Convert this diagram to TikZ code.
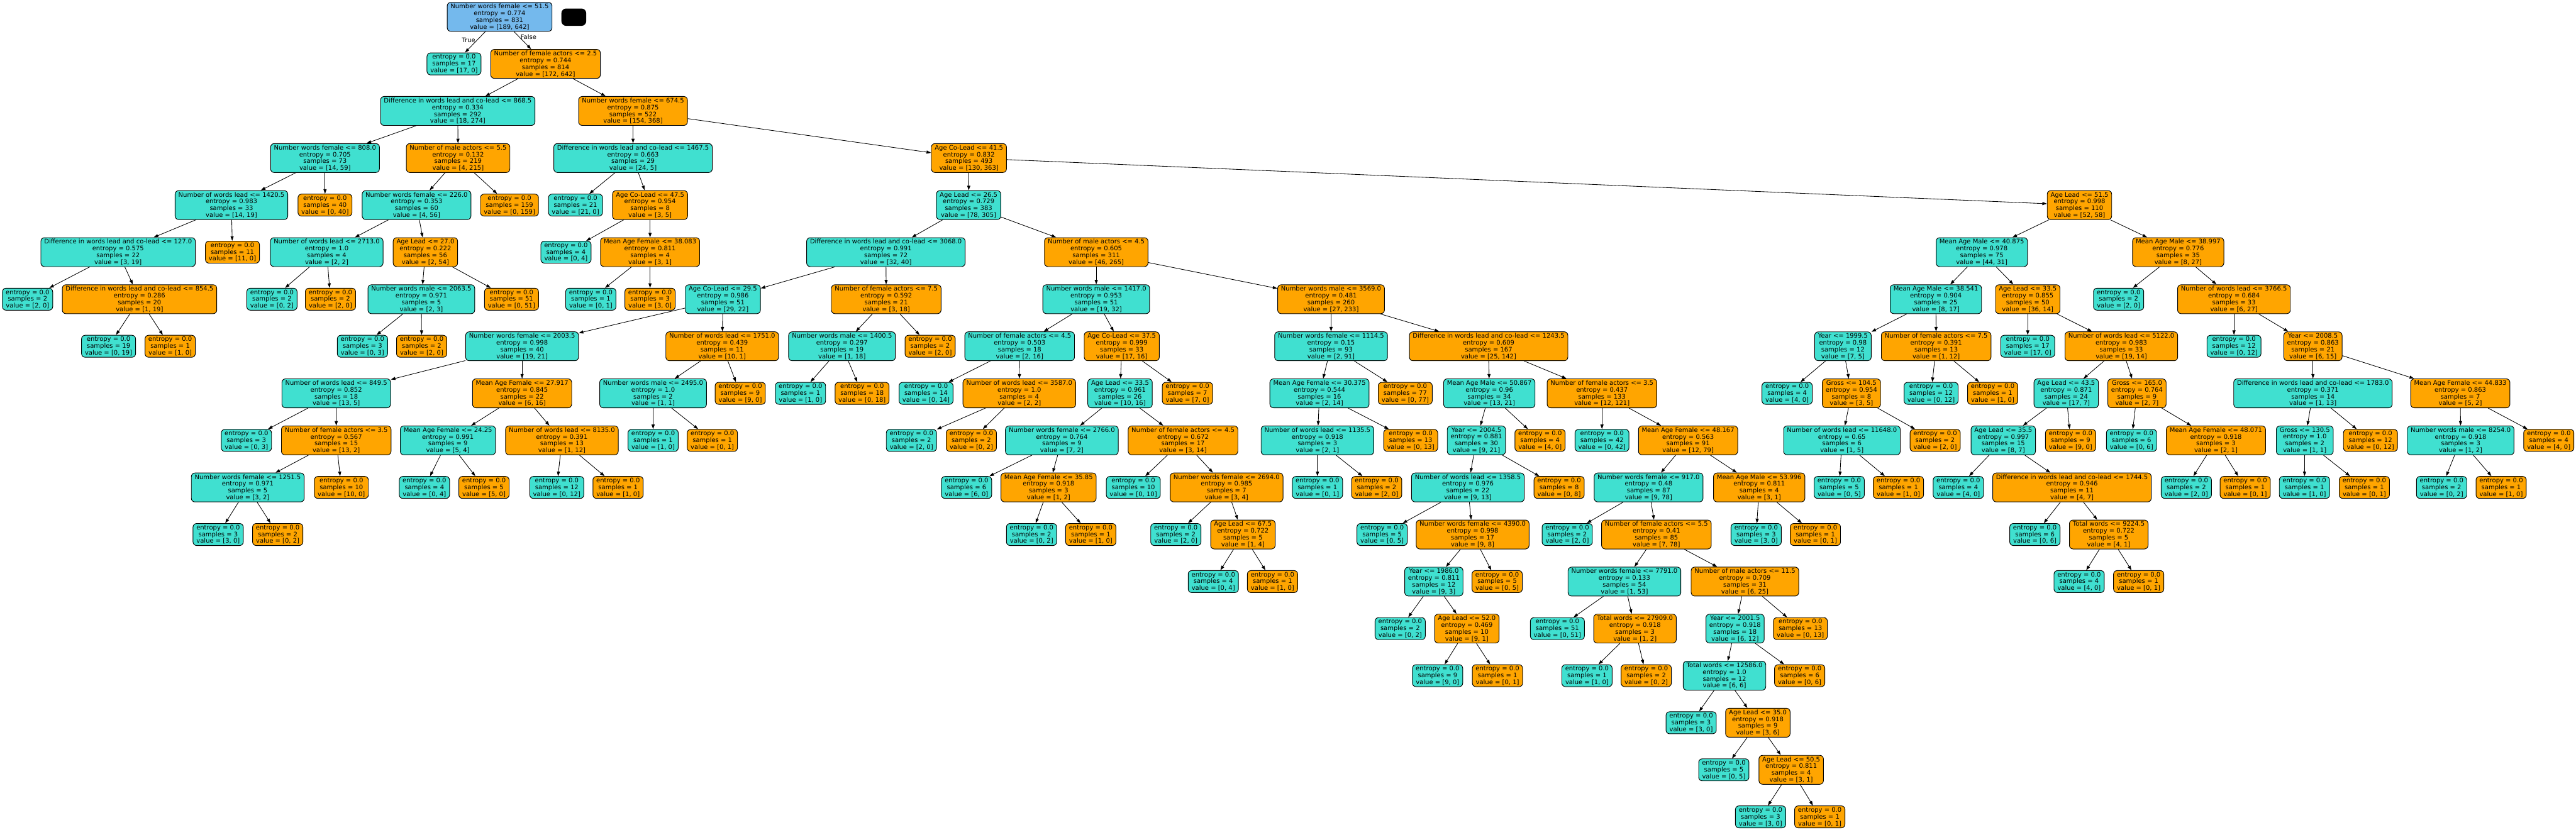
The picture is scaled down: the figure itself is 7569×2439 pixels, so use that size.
\documentclass[tikz,border=0pt]{standalone}
\usepackage{fontspec}
\setmainfont{DejaVu Sans}
\usetikzlibrary{arrows.meta}
\definecolor{leftfill}{RGB}{64,224,208}
\definecolor{rightfill}{RGB}{255,165,0}
\definecolor{rootfill}{RGB}{116,185,237}

\begin{document}
\begin{tikzpicture}[x=0.01cm, y=-0.01cm, >={Triangle[length=3.8pt, width=2.6pt]},
    box/.style={draw, rounded corners=3pt, line width=0.5pt, align=center, inner xsep=2.8pt, inner ysep=1.2pt, font=\fontsize{5.25}{5.7}\selectfont},
    lbox/.style={box, fill=leftfill},
    rbox/.style={box, fill=rightfill},
    link/.style={->, line width=0.45pt},
    lbl/.style={font=\fontsize{5.25}{5.7}\selectfont, inner sep=1pt}]

    \useasboundingbox (0,0) rectangle (7569,2439);

    % rank 0
    \node[box, fill=rootfill] (n0) at (1468,49.5) {Number words female <= 51.5\\entropy = 0.774\\samples = 831\\value = [189, 642]};
    \node[fill=black, rounded corners=4pt, minimum width=0.73cm, minimum height=0.51cm, inner sep=0pt] (mark0) at (1686,50.5) {};

    % rank 1
    \node[lbox] (n1) at (1334,187.8) {entropy = 0.0\\samples = 17\\value = [17, 0]};
    \node[rbox] (n2) at (1603,187.8) {Number of female actors <= 2.5\\entropy = 0.744\\samples = 814\\value = [172, 642]};

    % rank 2
    \node[lbox] (n3) at (1345,326.1) {Difference in words lead and co-lead <= 868.5\\entropy = 0.334\\samples = 292\\value = [18, 274]};
    \node[rbox] (n4) at (1860,326.1) {Number words female <= 674.5\\entropy = 0.875\\samples = 522\\value = [154, 368]};

    % rank 3
    \node[lbox] (n5) at (955,464.4) {Number words female <= 808.0\\entropy = 0.705\\samples = 73\\value = [14, 59]};
    \node[rbox] (n6) at (1346,464.4) {Number of male actors <= 5.5\\entropy = 0.132\\samples = 219\\value = [4, 215]};
    \node[lbox] (n7) at (1860,464.4) {Difference in words lead and co-lead <= 1467.5\\entropy = 0.663\\samples = 29\\value = [24, 5]};
    \node[rbox] (n8) at (2847,464.4) {Age Co-Lead <= 41.5\\entropy = 0.832\\samples = 493\\value = [130, 363]};

    % rank 4
    \node[lbox] (n9) at (680,602.7) {Number of words lead <= 1420.5\\entropy = 0.983\\samples = 33\\value = [14, 19]};
    \node[rbox] (n10) at (955,602.7) {entropy = 0.0\\samples = 40\\value = [0, 40]};
    \node[lbox] (n11) at (1224,602.7) {Number words female <= 226.0\\entropy = 0.353\\samples = 60\\value = [4, 56]};
    \node[rbox] (n12) at (1497,602.7) {entropy = 0.0\\samples = 159\\value = [0, 159]};
    \node[lbox] (n13) at (1691,602.7) {entropy = 0.0\\samples = 21\\value = [21, 0]};
    \node[rbox] (n14) at (1910,602.7) {Age Co-Lead <= 47.5\\entropy = 0.954\\samples = 8\\value = [3, 5]};
    \node[lbox] (n15) at (2846,602.7) {Age Lead <= 26.5\\entropy = 0.729\\samples = 383\\value = [78, 305]};
    \node[rbox] (n16) at (6110,602.7) {Age Lead <= 51.5\\entropy = 0.998\\samples = 110\\value = [52, 58]};

    % rank 5
    \node[lbox] (n17) at (347,741) {Difference in words lead and co-lead <= 127.0\\entropy = 0.575\\samples = 22\\value = [3, 19]};
    \node[rbox] (n18) at (683,741) {entropy = 0.0\\samples = 11\\value = [11, 0]};
    \node[lbox] (n19) at (960,741) {Number of words lead <= 2713.0\\entropy = 1.0\\samples = 4\\value = [2, 2]};
    \node[rbox] (n20) at (1250,741) {Age Lead <= 27.0\\entropy = 0.222\\samples = 56\\value = [2, 54]};
    \node[lbox] (n21) at (1663,741) {entropy = 0.0\\samples = 4\\value = [0, 4]};
    \node[rbox] (n22) at (1910,741) {Mean Age Female <= 38.083\\entropy = 0.811\\samples = 4\\value = [3, 1]};
    \node[lbox] (n23) at (2603,741) {Difference in words lead and co-lead <= 3068.0\\entropy = 0.991\\samples = 72\\value = [32, 40]};
    \node[rbox] (n24) at (3221,741) {Number of male actors <= 4.5\\entropy = 0.605\\samples = 311\\value = [46, 265]};
    \node[lbox] (n25) at (5823,741) {Mean Age Male <= 40.875\\entropy = 0.978\\samples = 75\\value = [44, 31]};
    \node[rbox] (n26) at (6400,741) {Mean Age Male <= 38.997\\entropy = 0.776\\samples = 35\\value = [8, 27]};

    % rank 6
    \node[lbox] (n27) at (81,879.3) {entropy = 0.0\\samples = 2\\value = [2, 0]};
    \node[rbox] (n28) at (410,879.3) {Difference in words lead and co-lead <= 854.5\\entropy = 0.286\\samples = 20\\value = [1, 19]};
    \node[lbox] (n29) at (799,879.3) {entropy = 0.0\\samples = 2\\value = [0, 2]};
    \node[rbox] (n30) at (971,879.3) {entropy = 0.0\\samples = 2\\value = [2, 0]};
    \node[lbox] (n31) at (1238,879.3) {Number words male <= 2063.5\\entropy = 0.971\\samples = 5\\value = [2, 3]};
    \node[rbox] (n32) at (1503,879.3) {entropy = 0.0\\samples = 51\\value = [0, 51]};
    \node[lbox] (n33) at (1736,879.3) {entropy = 0.0\\samples = 1\\value = [0, 1]};
    \node[rbox] (n34) at (1910,879.3) {entropy = 0.0\\samples = 3\\value = [3, 0]};
    \node[lbox] (n35) at (2124,879.3) {Age Co-Lead <= 29.5\\entropy = 0.986\\samples = 51\\value = [29, 22]};
    \node[rbox] (n36) at (2604,879.3) {Number of female actors <= 7.5\\entropy = 0.592\\samples = 21\\value = [3, 18]};
    \node[lbox] (n37) at (3221,879.3) {Number words male <= 1417.0\\entropy = 0.953\\samples = 51\\value = [19, 32]};
    \node[rbox] (n38) at (3911,879.3) {Number words male <= 3569.0\\entropy = 0.481\\samples = 260\\value = [27, 233]};
    \node[lbox] (n39) at (5688,879.3) {Mean Age Male <= 38.541\\entropy = 0.904\\samples = 25\\value = [8, 17]};
    \node[rbox] (n40) at (5958,879.3) {Age Lead <= 33.5\\entropy = 0.855\\samples = 50\\value = [36, 14]};
    \node[lbox] (n41) at (6225,879.3) {entropy = 0.0\\samples = 2\\value = [2, 0]};
    \node[rbox] (n42) at (6564,879.3) {Number of words lead <= 3766.5\\entropy = 0.684\\samples = 33\\value = [6, 27]};

    % rank 7
    \node[lbox] (n43) at (319,1017.6) {entropy = 0.0\\samples = 19\\value = [0, 19]};
    \node[rbox] (n44) at (500,1017.6) {entropy = 0.0\\samples = 1\\value = [1, 0]};
    \node[lbox] (n45) at (1065,1017.6) {entropy = 0.0\\samples = 3\\value = [0, 3]};
    \node[rbox] (n46) at (1239,1017.6) {entropy = 0.0\\samples = 2\\value = [2, 0]};
    \node[lbox] (n47) at (1534,1017.6) {Number words female <= 2003.5\\entropy = 0.998\\samples = 40\\value = [19, 21]};
    \node[rbox] (n48) at (2122,1017.6) {Number of words lead <= 1751.0\\entropy = 0.439\\samples = 11\\value = [10, 1]};
    \node[lbox] (n49) at (2474,1017.6) {Number words male <= 1400.5\\entropy = 0.297\\samples = 19\\value = [1, 18]};
    \node[rbox] (n50) at (2733,1017.6) {entropy = 0.0\\samples = 2\\value = [2, 0]};
    \node[lbox] (n51) at (2996,1017.6) {Number of female actors <= 4.5\\entropy = 0.503\\samples = 18\\value = [2, 16]};
    \node[rbox] (n52) at (3296,1017.6) {Age Co-Lead <= 37.5\\entropy = 0.999\\samples = 33\\value = [17, 16]};
    \node[lbox] (n53) at (3911,1017.6) {Number words female <= 1114.5\\entropy = 0.15\\samples = 93\\value = [2, 91]};
    \node[rbox] (n54) at (4374,1017.6) {Difference in words lead and co-lead <= 1243.5\\entropy = 0.609\\samples = 167\\value = [25, 142]};
    \node[lbox] (n55) at (5415,1017.6) {Year <= 1999.5\\entropy = 0.98\\samples = 12\\value = [7, 5]};
    \node[rbox] (n56) at (5689,1017.6) {Number of female actors <= 7.5\\entropy = 0.391\\samples = 13\\value = [1, 12]};
    \node[lbox] (n57) at (5958,1017.6) {entropy = 0.0\\samples = 17\\value = [17, 0]};
    \node[rbox] (n58) at (6233,1017.6) {Number of words lead <= 5122.0\\entropy = 0.983\\samples = 33\\value = [19, 14]};
    \node[lbox] (n59) at (6564,1017.6) {entropy = 0.0\\samples = 12\\value = [0, 12]};
    \node[rbox] (n60) at (6796,1017.6) {Year <= 2008.5\\entropy = 0.863\\samples = 21\\value = [6, 15]};

    % rank 8
    \node[lbox] (n61) at (988,1155.9) {Number of words lead <= 849.5\\entropy = 0.852\\samples = 18\\value = [13, 5]};
    \node[rbox] (n62) at (1534,1155.9) {Mean Age Female <= 27.917\\entropy = 0.845\\samples = 22\\value = [6, 16]};
    \node[lbox] (n63) at (1919,1155.9) {Number words male <= 2495.0\\entropy = 1.0\\samples = 2\\value = [1, 1]};
    \node[rbox] (n64) at (2175,1155.9) {entropy = 0.0\\samples = 9\\value = [9, 0]};
    \node[lbox] (n65) at (2352,1155.9) {entropy = 0.0\\samples = 1\\value = [1, 0]};
    \node[rbox] (n66) at (2533,1155.9) {entropy = 0.0\\samples = 18\\value = [0, 18]};
    \node[lbox] (n67) at (2721,1155.9) {entropy = 0.0\\samples = 14\\value = [0, 14]};
    \node[rbox] (n68) at (2995,1155.9) {Number of words lead <= 3587.0\\entropy = 1.0\\samples = 4\\value = [2, 2]};
    \node[lbox] (n69) at (3291,1155.9) {Age Lead <= 33.5\\entropy = 0.961\\samples = 26\\value = [10, 16]};
    \node[rbox] (n70) at (3489,1155.9) {entropy = 0.0\\samples = 7\\value = [7, 0]};
    \node[lbox] (n71) at (3877,1155.9) {Mean Age Female <= 30.375\\entropy = 0.544\\samples = 16\\value = [2, 14]};
    \node[rbox] (n72) at (4129,1155.9) {entropy = 0.0\\samples = 77\\value = [0, 77]};
    \node[lbox] (n73) at (4376,1155.9) {Mean Age Male <= 50.867\\entropy = 0.96\\samples = 34\\value = [13, 21]};
    \node[rbox] (n74) at (4707,1155.9) {Number of female actors <= 3.5\\entropy = 0.437\\samples = 133\\value = [12, 121]};
    \node[lbox] (n75) at (5251,1155.9) {entropy = 0.0\\samples = 4\\value = [4, 0]};
    \node[rbox] (n76) at (5440,1155.9) {Gross <= 104.5\\entropy = 0.954\\samples = 8\\value = [3, 5]};
    \node[lbox] (n77) at (5674,1155.9) {entropy = 0.0\\samples = 12\\value = [0, 12]};
    \node[rbox] (n78) at (5855,1155.9) {entropy = 0.0\\samples = 1\\value = [1, 0]};
    \node[lbox] (n79) at (6071,1155.9) {Age Lead <= 43.5\\entropy = 0.871\\samples = 24\\value = [17, 7]};
    \node[rbox] (n80) at (6279,1155.9) {Gross <= 165.0\\entropy = 0.764\\samples = 9\\value = [2, 7]};
    \node[lbox] (n81) at (6796,1155.9) {Difference in words lead and co-lead <= 1783.0\\entropy = 0.371\\samples = 14\\value = [1, 13]};
    \node[rbox] (n82) at (7229,1155.9) {Mean Age Female <= 44.833\\entropy = 0.863\\samples = 7\\value = [5, 2]};

    % rank 9
    \node[lbox] (n83) at (724,1294.2) {entropy = 0.0\\samples = 3\\value = [0, 3]};
    \node[rbox] (n84) at (988,1294.2) {Number of female actors <= 3.5\\entropy = 0.567\\samples = 15\\value = [13, 2]};
    \node[lbox] (n85) at (1316,1294.2) {Mean Age Female <= 24.25\\entropy = 0.991\\samples = 9\\value = [5, 4]};
    \node[rbox] (n86) at (1651,1294.2) {Number of words lead <= 8135.0\\entropy = 0.391\\samples = 13\\value = [1, 12]};
    \node[lbox] (n87) at (1919,1294.2) {entropy = 0.0\\samples = 1\\value = [1, 0]};
    \node[rbox] (n88) at (2093,1294.2) {entropy = 0.0\\samples = 1\\value = [0, 1]};
    \node[lbox] (n89) at (2678,1294.2) {entropy = 0.0\\samples = 2\\value = [2, 0]};
    \node[rbox] (n90) at (2854,1294.2) {entropy = 0.0\\samples = 2\\value = [0, 2]};
    \node[lbox] (n91) at (3120,1294.2) {Number words female <= 2766.0\\entropy = 0.764\\samples = 9\\value = [7, 2]};
    \node[rbox] (n92) at (3476,1294.2) {Number of female actors <= 4.5\\entropy = 0.672\\samples = 17\\value = [3, 14]};
    \node[lbox] (n93) at (3871,1294.2) {Number of words lead <= 1135.5\\entropy = 0.918\\samples = 3\\value = [2, 1]};
    \node[rbox] (n94) at (4145,1294.2) {entropy = 0.0\\samples = 13\\value = [0, 13]};
    \node[lbox] (n95) at (4338,1294.2) {Year <= 2004.5\\entropy = 0.881\\samples = 30\\value = [9, 21]};
    \node[rbox] (n96) at (4525,1294.2) {entropy = 0.0\\samples = 4\\value = [4, 0]};
    \node[lbox] (n97) at (4707,1294.2) {entropy = 0.0\\samples = 42\\value = [0, 42]};
    \node[rbox] (n98) at (4960,1294.2) {Mean Age Female <= 48.167\\entropy = 0.563\\samples = 91\\value = [12, 79]};
    \node[lbox] (n99) at (5412,1294.2) {Number of words lead <= 11648.0\\entropy = 0.65\\samples = 6\\value = [1, 5]};
    \node[rbox] (n100) at (5686,1294.2) {entropy = 0.0\\samples = 2\\value = [2, 0]};
    \node[lbox] (n101) at (5886,1294.2) {Age Lead <= 35.5\\entropy = 0.997\\samples = 15\\value = [8, 7]};
    \node[rbox] (n102) at (6084,1294.2) {entropy = 0.0\\samples = 9\\value = [9, 0]};
    \node[lbox] (n103) at (6263,1294.2) {entropy = 0.0\\samples = 6\\value = [0, 6]};
    \node[rbox] (n104) at (6511,1294.2) {Mean Age Female <= 48.071\\entropy = 0.918\\samples = 3\\value = [2, 1]};
    \node[lbox] (n105) at (6772,1294.2) {Gross <= 130.5\\entropy = 1.0\\samples = 2\\value = [1, 1]};
    \node[rbox] (n106) at (6965,1294.2) {entropy = 0.0\\samples = 12\\value = [0, 12]};
    \node[lbox] (n107) at (7230,1294.2) {Number words male <= 8254.0\\entropy = 0.918\\samples = 3\\value = [1, 2]};
    \node[rbox] (n108) at (7489,1294.2) {entropy = 0.0\\samples = 4\\value = [4, 0]};

    % rank 10
    \node[lbox] (n109) at (728,1432.5) {Number words female <= 1251.5\\entropy = 0.971\\samples = 5\\value = [3, 2]};
    \node[rbox] (n110) at (1003,1432.5) {entropy = 0.0\\samples = 10\\value = [10, 0]};
    \node[lbox] (n111) at (1247,1432.5) {entropy = 0.0\\samples = 4\\value = [0, 4]};
    \node[rbox] (n112) at (1422,1432.5) {entropy = 0.0\\samples = 5\\value = [5, 0]};
    \node[lbox] (n113) at (1636,1432.5) {entropy = 0.0\\samples = 12\\value = [0, 12]};
    \node[rbox] (n114) at (1816,1432.5) {entropy = 0.0\\samples = 1\\value = [1, 0]};
    \node[lbox] (n115) at (2840,1432.5) {entropy = 0.0\\samples = 6\\value = [6, 0]};
    \node[rbox] (n116) at (3081,1432.5) {Mean Age Female <= 35.85\\entropy = 0.918\\samples = 3\\value = [1, 2]};
    \node[lbox] (n117) at (3330,1432.5) {entropy = 0.0\\samples = 10\\value = [0, 10]};
    \node[rbox] (n118) at (3604,1432.5) {Number words female <= 2694.0\\entropy = 0.985\\samples = 7\\value = [3, 4]};
    \node[lbox] (n119) at (3871,1432.5) {entropy = 0.0\\samples = 1\\value = [0, 1]};
    \node[rbox] (n120) at (4045,1432.5) {entropy = 0.0\\samples = 2\\value = [2, 0]};
    \node[lbox] (n121) at (4313,1432.5) {Number of words lead <= 1358.5\\entropy = 0.976\\samples = 22\\value = [9, 13]};
    \node[rbox] (n122) at (4581,1432.5) {entropy = 0.0\\samples = 8\\value = [0, 8]};
    \node[lbox] (n123) at (4844,1432.5) {Number words female <= 917.0\\entropy = 0.48\\samples = 87\\value = [9, 78]};
    \node[rbox] (n124) at (5169,1432.5) {Mean Age Male <= 53.996\\entropy = 0.811\\samples = 4\\value = [3, 1]};
    \node[lbox] (n125) at (5404,1432.5) {entropy = 0.0\\samples = 5\\value = [0, 5]};
    \node[rbox] (n126) at (5578,1432.5) {entropy = 0.0\\samples = 1\\value = [1, 0]};
    \node[lbox] (n127) at (5754,1432.5) {entropy = 0.0\\samples = 4\\value = [4, 0]};
    \node[rbox] (n128) at (6088,1432.5) {Difference in words lead and co-lead <= 1744.5\\entropy = 0.946\\samples = 11\\value = [4, 7]};
    \node[lbox] (n129) at (6424,1432.5) {entropy = 0.0\\samples = 2\\value = [2, 0]};
    \node[rbox] (n130) at (6597,1432.5) {entropy = 0.0\\samples = 1\\value = [0, 1]};
    \node[lbox] (n131) at (6771,1432.5) {entropy = 0.0\\samples = 1\\value = [1, 0]};
    \node[rbox] (n132) at (6947,1432.5) {entropy = 0.0\\samples = 1\\value = [0, 1]};
    \node[lbox] (n133) at (7174,1432.5) {entropy = 0.0\\samples = 2\\value = [0, 2]};
    \node[rbox] (n134) at (7349,1432.5) {entropy = 0.0\\samples = 1\\value = [1, 0]};

    % rank 11
    \node[lbox] (n135) at (641,1570.8) {entropy = 0.0\\samples = 3\\value = [3, 0]};
    \node[rbox] (n136) at (816,1570.8) {entropy = 0.0\\samples = 2\\value = [0, 2]};
    \node[lbox] (n137) at (3031,1570.8) {entropy = 0.0\\samples = 2\\value = [0, 2]};
    \node[rbox] (n138) at (3205,1570.8) {entropy = 0.0\\samples = 1\\value = [1, 0]};
    \node[lbox] (n139) at (3455,1570.8) {entropy = 0.0\\samples = 2\\value = [2, 0]};
    \node[rbox] (n140) at (3652,1570.8) {Age Lead <= 67.5\\entropy = 0.722\\samples = 5\\value = [1, 4]};
    \node[lbox] (n141) at (4061,1570.8) {entropy = 0.0\\samples = 5\\value = [0, 5]};
    \node[rbox] (n142) at (4327,1570.8) {Number words female <= 4390.0\\entropy = 0.998\\samples = 17\\value = [9, 8]};
    \node[lbox] (n143) at (4605,1570.8) {entropy = 0.0\\samples = 2\\value = [2, 0]};
    \node[rbox] (n144) at (4867,1570.8) {Number of female actors <= 5.5\\entropy = 0.41\\samples = 85\\value = [7, 78]};
    \node[lbox] (n145) at (5160,1570.8) {entropy = 0.0\\samples = 3\\value = [3, 0]};
    \node[rbox] (n146) at (5334,1570.8) {entropy = 0.0\\samples = 1\\value = [0, 1]};
    \node[lbox] (n147) at (5979,1570.8) {entropy = 0.0\\samples = 6\\value = [0, 6]};
    \node[rbox] (n148) at (6196,1570.8) {Total words <= 9224.5\\entropy = 0.722\\samples = 5\\value = [4, 1]};

    % rank 12
    \node[lbox] (n149) at (3565,1709.1) {entropy = 0.0\\samples = 4\\value = [0, 4]};
    \node[rbox] (n150) at (3739,1709.1) {entropy = 0.0\\samples = 1\\value = [1, 0]};
    \node[lbox] (n151) at (4213,1709.1) {Year <= 1986.0\\entropy = 0.811\\samples = 12\\value = [9, 3]};
    \node[rbox] (n152) at (4399,1709.1) {entropy = 0.0\\samples = 5\\value = [0, 5]};
    \node[lbox] (n153) at (4773,1709.1) {Number words female <= 7791.0\\entropy = 0.133\\samples = 54\\value = [1, 53]};
    \node[rbox] (n154) at (5127,1709.1) {Number of male actors <= 11.5\\entropy = 0.709\\samples = 31\\value = [6, 25]};
    \node[lbox] (n155) at (6109,1709.1) {entropy = 0.0\\samples = 4\\value = [4, 0]};
    \node[rbox] (n156) at (6284,1709.1) {entropy = 0.0\\samples = 1\\value = [0, 1]};

    % rank 13
    \node[lbox] (n157) at (4114,1847.4) {entropy = 0.0\\samples = 2\\value = [0, 2]};
    \node[rbox] (n158) at (4310,1847.4) {Age Lead <= 52.0\\entropy = 0.469\\samples = 10\\value = [9, 1]};
    \node[lbox] (n159) at (4576,1847.4) {entropy = 0.0\\samples = 51\\value = [0, 51]};
    \node[rbox] (n160) at (4804,1847.4) {Total words <= 27909.0\\entropy = 0.918\\samples = 3\\value = [1, 2]};
    \node[lbox] (n161) at (5098,1847.4) {Year <= 2001.5\\entropy = 0.918\\samples = 18\\value = [6, 12]};
    \node[rbox] (n162) at (5290,1847.4) {entropy = 0.0\\samples = 13\\value = [0, 13]};

    % rank 14
    \node[lbox] (n163) at (4224,1985.7) {entropy = 0.0\\samples = 9\\value = [9, 0]};
    \node[rbox] (n164) at (4400,1985.7) {entropy = 0.0\\samples = 1\\value = [0, 1]};
    \node[lbox] (n165) at (4663,1985.7) {entropy = 0.0\\samples = 1\\value = [1, 0]};
    \node[rbox] (n166) at (4837,1985.7) {entropy = 0.0\\samples = 2\\value = [0, 2]};
    \node[lbox] (n167) at (5067,1985.7) {Total words <= 12586.0\\entropy = 1.0\\samples = 12\\value = [6, 6]};
    \node[rbox] (n168) at (5288,1985.7) {entropy = 0.0\\samples = 6\\value = [0, 6]};

    % rank 15
    \node[lbox] (n169) at (4969,2124) {entropy = 0.0\\samples = 3\\value = [3, 0]};
    \node[rbox] (n170) at (5165,2124) {Age Lead <= 35.0\\entropy = 0.918\\samples = 9\\value = [3, 6]};

    % rank 16
    \node[lbox] (n171) at (5065,2262.3) {entropy = 0.0\\samples = 5\\value = [0, 5]};
    \node[rbox] (n172) at (5263,2262.3) {Age Lead <= 50.5\\entropy = 0.811\\samples = 4\\value = [3, 1]};

    % rank 17
    \node[lbox] (n173) at (5173,2400.6) {entropy = 0.0\\samples = 3\\value = [3, 0]};
    \node[rbox] (n174) at (5347,2400.6) {entropy = 0.0\\samples = 1\\value = [0, 1]};

    % edges
    \draw[link] (n0) -- node[lbl, left, pos=0.42]{True} (n1);
    \draw[link] (n0) -- node[lbl, right, pos=0.3]{False} (n2);
    \draw[link] (n2) -- (n3); \draw[link] (n2) -- (n4);
    \draw[link] (n3) -- (n5); \draw[link] (n3) -- (n6);
    \draw[link] (n4) -- (n7); \draw[link] (n4) -- (n8);
    \draw[link] (n5) -- (n9); \draw[link] (n5) -- (n10);
    \draw[link] (n6) -- (n11); \draw[link] (n6) -- (n12);
    \draw[link] (n7) -- (n13); \draw[link] (n7) -- (n14);
    \draw[link] (n8) -- (n15); \draw[link] (n8) -- (n16);
    \draw[link] (n9) -- (n17); \draw[link] (n9) -- (n18);
    \draw[link] (n11) -- (n19); \draw[link] (n11) -- (n20);
    \draw[link] (n14) -- (n21); \draw[link] (n14) -- (n22);
    \draw[link] (n15) -- (n23); \draw[link] (n15) -- (n24);
    \draw[link] (n16) -- (n25); \draw[link] (n16) -- (n26);
    \draw[link] (n17) -- (n27); \draw[link] (n17) -- (n28);
    \draw[link] (n19) -- (n29); \draw[link] (n19) -- (n30);
    \draw[link] (n20) -- (n31); \draw[link] (n20) -- (n32);
    \draw[link] (n22) -- (n33); \draw[link] (n22) -- (n34);
    \draw[link] (n23) -- (n35); \draw[link] (n23) -- (n36);
    \draw[link] (n24) -- (n37); \draw[link] (n24) -- (n38);
    \draw[link] (n25) -- (n39); \draw[link] (n25) -- (n40);
    \draw[link] (n26) -- (n41); \draw[link] (n26) -- (n42);
    \draw[link] (n28) -- (n43); \draw[link] (n28) -- (n44);
    \draw[link] (n31) -- (n45); \draw[link] (n31) -- (n46);
    \draw[link] (n35) -- (n47); \draw[link] (n35) -- (n48);
    \draw[link] (n36) -- (n49); \draw[link] (n36) -- (n50);
    \draw[link] (n37) -- (n51); \draw[link] (n37) -- (n52);
    \draw[link] (n38) -- (n53); \draw[link] (n38) -- (n54);
    \draw[link] (n39) -- (n55); \draw[link] (n39) -- (n56);
    \draw[link] (n40) -- (n57); \draw[link] (n40) -- (n58);
    \draw[link] (n42) -- (n59); \draw[link] (n42) -- (n60);
    \draw[link] (n47) -- (n61); \draw[link] (n47) -- (n62);
    \draw[link] (n48) -- (n63); \draw[link] (n48) -- (n64);
    \draw[link] (n49) -- (n65); \draw[link] (n49) -- (n66);
    \draw[link] (n51) -- (n67); \draw[link] (n51) -- (n68);
    \draw[link] (n52) -- (n69); \draw[link] (n52) -- (n70);
    \draw[link] (n53) -- (n71); \draw[link] (n53) -- (n72);
    \draw[link] (n54) -- (n73); \draw[link] (n54) -- (n74);
    \draw[link] (n55) -- (n75); \draw[link] (n55) -- (n76);
    \draw[link] (n56) -- (n77); \draw[link] (n56) -- (n78);
    \draw[link] (n58) -- (n79); \draw[link] (n58) -- (n80);
    \draw[link] (n60) -- (n81); \draw[link] (n60) -- (n82);
    \draw[link] (n61) -- (n83); \draw[link] (n61) -- (n84);
    \draw[link] (n62) -- (n85); \draw[link] (n62) -- (n86);
    \draw[link] (n63) -- (n87); \draw[link] (n63) -- (n88);
    \draw[link] (n68) -- (n89); \draw[link] (n68) -- (n90);
    \draw[link] (n69) -- (n91); \draw[link] (n69) -- (n92);
    \draw[link] (n71) -- (n93); \draw[link] (n71) -- (n94);
    \draw[link] (n73) -- (n95); \draw[link] (n73) -- (n96);
    \draw[link] (n74) -- (n97); \draw[link] (n74) -- (n98);
    \draw[link] (n76) -- (n99); \draw[link] (n76) -- (n100);
    \draw[link] (n79) -- (n101); \draw[link] (n79) -- (n102);
    \draw[link] (n80) -- (n103); \draw[link] (n80) -- (n104);
    \draw[link] (n81) -- (n105); \draw[link] (n81) -- (n106);
    \draw[link] (n82) -- (n107); \draw[link] (n82) -- (n108);
    \draw[link] (n84) -- (n109); \draw[link] (n84) -- (n110);
    \draw[link] (n85) -- (n111); \draw[link] (n85) -- (n112);
    \draw[link] (n86) -- (n113); \draw[link] (n86) -- (n114);
    \draw[link] (n91) -- (n115); \draw[link] (n91) -- (n116);
    \draw[link] (n92) -- (n117); \draw[link] (n92) -- (n118);
    \draw[link] (n93) -- (n119); \draw[link] (n93) -- (n120);
    \draw[link] (n95) -- (n121); \draw[link] (n95) -- (n122);
    \draw[link] (n98) -- (n123); \draw[link] (n98) -- (n124);
    \draw[link] (n99) -- (n125); \draw[link] (n99) -- (n126);
    \draw[link] (n101) -- (n127); \draw[link] (n101) -- (n128);
    \draw[link] (n104) -- (n129); \draw[link] (n104) -- (n130);
    \draw[link] (n105) -- (n131); \draw[link] (n105) -- (n132);
    \draw[link] (n107) -- (n133); \draw[link] (n107) -- (n134);
    \draw[link] (n109) -- (n135); \draw[link] (n109) -- (n136);
    \draw[link] (n116) -- (n137); \draw[link] (n116) -- (n138);
    \draw[link] (n118) -- (n139); \draw[link] (n118) -- (n140);
    \draw[link] (n121) -- (n141); \draw[link] (n121) -- (n142);
    \draw[link] (n123) -- (n143); \draw[link] (n123) -- (n144);
    \draw[link] (n124) -- (n145); \draw[link] (n124) -- (n146);
    \draw[link] (n128) -- (n147); \draw[link] (n128) -- (n148);
    \draw[link] (n140) -- (n149); \draw[link] (n140) -- (n150);
    \draw[link] (n142) -- (n151); \draw[link] (n142) -- (n152);
    \draw[link] (n144) -- (n153); \draw[link] (n144) -- (n154);
    \draw[link] (n148) -- (n155); \draw[link] (n148) -- (n156);
    \draw[link] (n151) -- (n157); \draw[link] (n151) -- (n158);
    \draw[link] (n153) -- (n159); \draw[link] (n153) -- (n160);
    \draw[link] (n154) -- (n161); \draw[link] (n154) -- (n162);
    \draw[link] (n158) -- (n163); \draw[link] (n158) -- (n164);
    \draw[link] (n160) -- (n165); \draw[link] (n160) -- (n166);
    \draw[link] (n161) -- (n167); \draw[link] (n161) -- (n168);
    \draw[link] (n167) -- (n169); \draw[link] (n167) -- (n170);
    \draw[link] (n170) -- (n171); \draw[link] (n170) -- (n172);
    \draw[link] (n172) -- (n173); \draw[link] (n172) -- (n174);

\end{tikzpicture}
\end{document}
